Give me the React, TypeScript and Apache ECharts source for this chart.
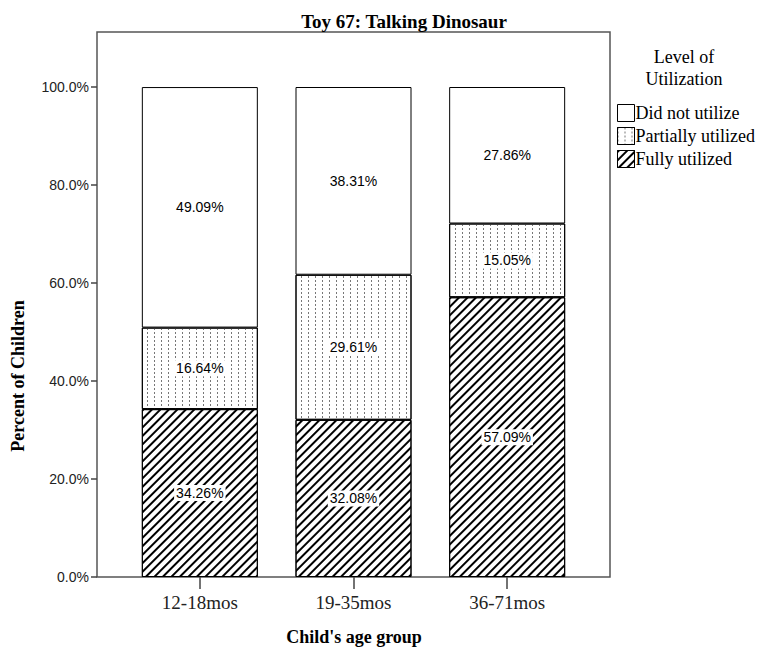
import React, { useEffect, useRef } from "react";
import * as echarts from "echarts";

const categories = ["12-18mos", "19-35mos", "36-71mos"];
const fullyUtilized = [34.26, 32.08, 57.09];
const partiallyUtilized = [16.64, 29.61, 15.05];
const didNotUtilize = [49.09, 38.31, 27.86];
const yTicks = [0, 20, 40, 60, 80, 100];

const SERIF = "Liberation Serif";
const SANS = "Liberation Sans";

function txt(text: string, x: number, y: number, size: number, bold: boolean, extra: any = {}) {
  return {
    type: "text",
    x,
    y,
    silent: true,
    ...extra,
    style: {
      text,
      fontFamily: SERIF,
      fontSize: size,
      fontWeight: bold ? "bold" : "normal",
      fill: "#000",
      align: "center",
      verticalAlign: "middle",
    },
  };
}

export default function App() {
  const ref = useRef<HTMLDivElement>(null);
  useEffect(() => {
    if (!ref.current) return;
    const chart = echarts.init(ref.current, null, { renderer: "svg" });
    const label = {
      show: true,
      position: "inside",
      formatter: (p: any) => Number(p.value).toFixed(2) + "%",
      fontFamily: SANS,
      fontSize: 14,
      color: "#000",
      backgroundColor: "#fff",
      padding: [1, 2],
    };
    const barCommon = {
      type: "bar",
      stack: "total",
      barWidth: 116,
      label,
    };
    chart.setOption({
      animation: false,
      backgroundColor: "#fff",
      grid: { left: 123, right: 176, top: 87, bottom: 73, containLabel: false },
      xAxis: {
        type: "category",
        data: categories,
        axisLine: { show: false },
        axisTick: { show: true, alignWithLabel: true, length: 12, lineStyle: { color: "#444", width: 1.5 } },
        axisLabel: { fontFamily: SERIF, fontSize: 19, color: "#222", margin: 16 },
      },
      yAxis: {
        type: "value",
        min: yTicks[0],
        max: yTicks[yTicks.length - 1],
        interval: 20,
        offset: 26,
        splitLine: { show: false },
        axisLine: { show: false },
        axisTick: { show: true, length: 6, lineStyle: { color: "#444", width: 1.5 } },
        axisLabel: {
          fontFamily: SANS,
          fontSize: 14,
          color: "#222",
          margin: 8,
          formatter: (v: number) => v.toFixed(1) + "%",
        },
      },
      legend: {
        orient: "vertical",
        left: 612,
        top: 99,
        itemWidth: 17,
        itemHeight: 17,
        itemGap: 5,
        icon: "rect",
        data: ["Did not utilize", "Partially utilized", "Fully utilized"],
        textStyle: { fontFamily: SERIF, fontSize: 18, color: "#000", padding: [0, 0, 0, -4] },
        itemStyle: { borderColor: "#000", borderWidth: 1 },
        selectedMode: false,
      },
      graphic: [
        {
          type: "rect",
          silent: true,
          shape: { x: 97, y: 32, width: 513, height: 545 },
          style: { fill: "none", stroke: "#555", lineWidth: 1.5 },
        },
        txt("Toy 67: Talking Dinosaur", 404, 21, 19, true),
        txt("Level of", 684, 57, 18, false),
        txt("Utilization", 684, 79, 18, false),
        txt("Child's age group", 354, 637, 18, true),
        txt("Percent of Children", 18, 376, 18, true, { rotation: Math.PI / 2 }),
      ],
      series: [
        {
          ...barCommon,
          name: "Fully utilized",
          data: fullyUtilized,
          itemStyle: {
            color: "#fff",
            borderColor: "#000",
            borderWidth: 1,
            decal: {
              symbol: "rect",
              symbolSize: 1,
              dashArrayX: [1, 0],
              dashArrayY: [2, 3.7],
              rotation: -Math.PI / 4,
              color: "#000",
              backgroundColor: "#fff",
            },
          },
        },
        {
          ...barCommon,
          name: "Partially utilized",
          data: partiallyUtilized,
          itemStyle: {
            color: "#fff",
            borderColor: "#000",
            borderWidth: 1,
            decal: {
              symbol: "rect",
              symbolSize: 1,
              dashArrayX: [1, 6],
              dashArrayY: [2, 2],
              rotation: 0,
              color: "#777",
              backgroundColor: "#fff",
            },
          },
        },
        {
          ...barCommon,
          name: "Did not utilize",
          data: didNotUtilize,
          itemStyle: { color: "#fff", borderColor: "#000", borderWidth: 1 },
        },
      ],
    });
    return () => chart.dispose();
  }, []);
  return (
    <div
      ref={ref}
      style={{ position: "fixed", left: 0, top: 0, width: 760, height: 650, background: "#fff" }}
    />
  );
}
